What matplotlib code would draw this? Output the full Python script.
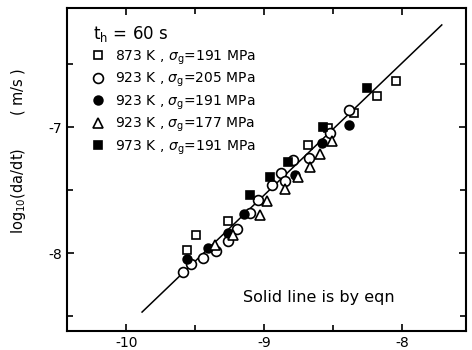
import numpy as np
import matplotlib
matplotlib.use('Agg')
import matplotlib.pyplot as plt
from matplotlib.ticker import MultipleLocator

# log10(dK-ish) on x, log10(da/dt) on y
sq_873_x = [-9.561, -9.495, -9.263, -8.682, -8.537, -8.348, -8.181, -8.044]
sq_873_y = [-7.976, -7.857, -7.746, -7.143, -7.008, -6.889, -6.754, -6.635]

ci_923_205_x = [-9.590, -9.532, -9.445, -9.350, -9.263, -9.198, -9.103, -9.045,
                -8.944, -8.878, -8.849, -8.791, -8.675, -8.523, -8.385]
ci_923_205_y = [-8.151, -8.087, -8.040, -7.984, -7.905, -7.810, -7.683, -7.579,
                -7.460, -7.365, -7.429, -7.262, -7.246, -7.048, -6.865]

fc_923_191_x = [-9.561, -9.408, -9.263, -9.147, -8.777, -8.581, -8.385]
fc_923_191_y = [-8.048, -7.960, -7.841, -7.690, -7.381, -7.127, -6.984]

tri_923_177_x = [-9.358, -9.227, -9.031, -8.980, -8.849, -8.755, -8.668, -8.595, -8.508]
tri_923_177_y = [-7.937, -7.857, -7.698, -7.587, -7.492, -7.397, -7.317, -7.214, -7.111]

fs_973_191_x = [-9.103, -8.958, -8.828, -8.573, -8.254]
fs_973_191_y = [-7.540, -7.397, -7.278, -7.000, -6.690]

eqn_x = [-9.887, -7.710]
eqn_y = [-8.468, -6.190]

labels = ['873 K , $\\sigma_\\mathrm{g}$=191 MPa',
          '923 K , $\\sigma_\\mathrm{g}$=205 MPa',
          '923 K , $\\sigma_\\mathrm{g}$=191 MPa',
          '923 K , $\\sigma_\\mathrm{g}$=177 MPa',
          '973 K , $\\sigma_\\mathrm{g}$=191 MPa']

plt.rcParams['font.family'] = ['DejaVu Sans']
plt.rcParams['mathtext.fontset'] = 'dejavusans'
plt.rcParams['axes.unicode_minus'] = False

fig = plt.figure(figsize=(4.72, 3.5), dpi=100)
ax = fig.add_axes([0.142, 0.054, 0.845, 0.923])

ax.plot(eqn_x, eqn_y, color='black', lw=1.1, zorder=1)

ms = 6.3
mew = 1.2
h1, = ax.plot(sq_873_x, sq_873_y, 's', ms=ms, mfc='white', mec='black', mew=mew, ls='none')
h2, = ax.plot(ci_923_205_x, ci_923_205_y, 'o', ms=ms+0.8, mfc='white', mec='black', mew=mew, ls='none')
h3, = ax.plot(fc_923_191_x, fc_923_191_y, 'o', ms=ms, mfc='black', mec='black', mew=mew, ls='none')
h4, = ax.plot(tri_923_177_x, tri_923_177_y, '^', ms=ms+0.8, mfc='white', mec='black', mew=mew, ls='none')
h5, = ax.plot(fs_973_191_x, fs_973_191_y, 's', ms=ms, mfc='black', mec='black', mew=mew, ls='none')

leg = ax.legend([h1, h2, h3, h4, h5], labels, loc='upper left', frameon=False,
                title='t$_\\mathrm{h}$ = 60 s', title_fontsize=12, fontsize=10,
                handlelength=0.8, handletextpad=0.8, labelspacing=0.3,
                borderaxespad=0.3, bbox_to_anchor=(0.04, 0.98))
leg._legend_box.align = 'left'

ax.text(0.44, 0.105, 'Solid line is by eqn', transform=ax.transAxes,
        fontsize=11.5, ha='left', va='center')

ax.set_xlim(-10.432, -7.535)
ax.set_ylim(-8.619, -6.056)
ax.xaxis.set_major_locator(MultipleLocator(1))
ax.xaxis.set_minor_locator(MultipleLocator(0.5))
ax.yaxis.set_major_locator(MultipleLocator(1))
ax.yaxis.set_minor_locator(MultipleLocator(0.5))
ax.tick_params(which='both', direction='in', top=True, right=True, labelsize=10)
ax.tick_params(which='major', length=5, width=1.2)
ax.tick_params(which='minor', length=4, width=1.2)
for s in ax.spines.values():
    s.set_linewidth(1.5)

fig.text(0.04, 0.57, 'log$_{10}$(da/dt)       ( m/s )', rotation=90,
         ha='center', va='center', fontsize=10.5)

fig.savefig('out.png', dpi=100)
